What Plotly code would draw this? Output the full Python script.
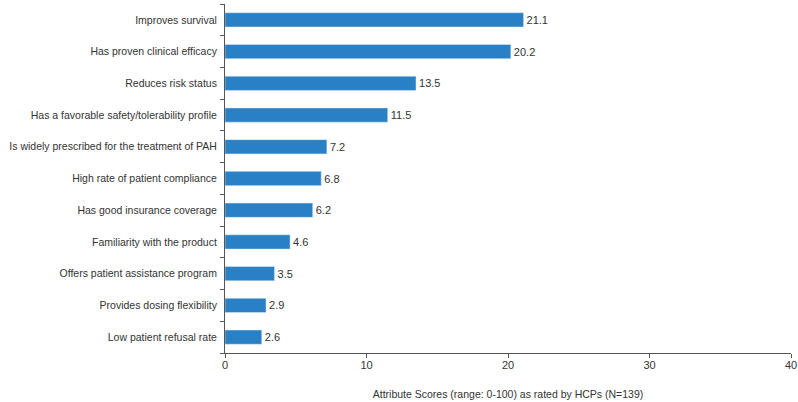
import plotly.graph_objects as go

# Attributes (top to bottom) and their scores
attributes = [
    "Improves survival",
    "Has proven clinical efficacy",
    "Reduces risk status",
    "Has a favorable safety/tolerability profile",
    "Is widely prescribed for the treatment of PAH",
    "High rate of patient compliance",
    "Has good insurance coverage",
    "Familiarity with the product",
    "Offers patient assistance program",
    "Provides dosing flexibility",
    "Low patient refusal rate",
]
scores = [21.1, 20.2, 13.5, 11.5, 7.2, 6.8, 6.2, 4.6, 3.5, 2.9, 2.6]
x_ticks = [0, 10, 20, 30, 40]

fig = go.Figure()
fig.add_trace(go.Bar(
    y=attributes,
    x=scores,
    orientation="h",
    marker=dict(color="#2a80c4"),
    width=0.45,
    text=[f"{v:.1f}" for v in scores],
    textposition="outside",
    textfont=dict(size=11, color="#333333"),
    cliponaxis=False,
))

fig.update_layout(
    width=798,
    height=402,
    margin=dict(l=225, r=7, t=4, b=49),
    paper_bgcolor="white",
    plot_bgcolor="white",
    font=dict(family="Liberation Sans, Arial, sans-serif", size=10.5, color="#333333"),
    showlegend=False,
    xaxis=dict(
        range=[0, 40],
        tickvals=x_ticks,
        showgrid=False,
        zeroline=False,
        showline=True,
        linecolor="#555555",
        ticks="outside",
        ticklen=4,
        tickcolor="#555555",
        ticklabelstandoff=-2,
        automargin=False,
        tickfont=dict(size=11),
        title=dict(text="Attribute Scores (range: 0-100) as rated by HCPs (N=139)",
                   font=dict(size=10.5), standoff=20),
    ),
    yaxis=dict(
        categoryorder="array",
        categoryarray=attributes[::-1],
        showgrid=False,
        showline=True,
        linecolor="#555555",
        ticks="outside",
        tickson="boundaries",
        ticklen=4,
        tickcolor="#555555",
        ticklabelstandoff=5,
        automargin=False,
    ),
)

# drop the default body margin so the figure sits at the window's corner
fig.write_html("out.html", config={"displayModeBar": False},
               post_script="document.body.style.margin='0';")
